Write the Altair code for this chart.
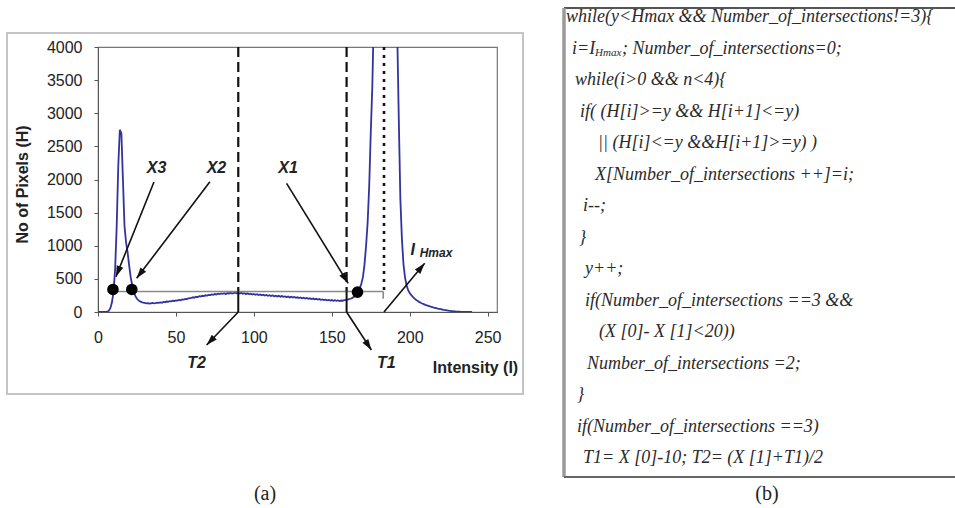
import math
import altair as alt
import pandas as pd

# ---------------- values ----------------
# histogram: number of pixels (H) for each grey level (I)
pixel_counts = [
    0, 0, 0, 0, 0, 0, 5, 20, 60, 150,
    320, 650, 1300, 2200, 2750, 2700, 2000, 1300, 1050, 900,
    700, 520, 400, 300, 240, 200, 175, 160, 150, 142,
    136, 130, 134, 128, 132, 138, 130, 135, 141, 137,
    145, 140, 152, 148, 158, 155, 163, 160, 170, 166,
    175, 172, 183, 178, 190, 186, 198, 194, 205, 210,
    214, 222, 218, 230, 226, 238, 234, 245, 241, 252,
    248, 258, 254, 266, 260, 271, 265, 276, 270, 280,
    274, 283, 270, 286, 277, 290, 279, 284, 293, 281,
    288, 279, 291, 276, 284, 270, 282, 268, 277, 264,
    272, 260, 268, 255, 265, 252, 262, 248, 257, 245,
    254, 242, 250, 238, 247, 235, 244, 231, 240, 228,
    236, 225, 233, 220, 230, 217, 226, 214, 222, 210,
    219, 206, 215, 203, 211, 199, 207, 195, 203, 191,
    199, 187, 195, 183, 190, 180, 186, 176, 183, 173,
    180, 170, 177, 168, 175, 166, 173, 170, 178, 182,
    188, 194, 200, 210, 225, 245, 275, 310, 360, 430,
    530, 720, 1000, 1350, 1900, 2700, 3400, 4500, 6000, 8000,
    9500, 10500, 11000, 11200, 11000, 10500, 9500, 8500, 7500, 6500,
    5500, 4800, 4200, 2900, 1700, 1100, 720, 520, 400, 330,
    285, 255, 228, 205, 185, 168, 153, 140, 128, 118,
    108, 100, 92, 84, 77, 70, 64, 58, 52, 47,
    42, 37, 32, 28, 24, 20, 17, 14, 11, 9,
    7, 5, 4, 3, 2, 1, 1, 0, 0, 0, 0,
]
intensity = list(range(len(pixel_counts)))

x_ticks = [0, 50, 100, 150, 200, 250]
y_ticks = [0, 500, 1000, 1500, 2000, 2500, 3000, 3500, 4000]

# threshold search line and intersections
search_level = 310
search_from, search_to = 10, 183
dot_names = ["X3", "X2", "X1"]
dot_I = [9.6, 21.7, 166.5]
dot_H = [340, 340, 300]

# vertical markers
T2_I, T1_I, IHmax_I = 90, 159.5, 183.5

# arrows: start (I, H) -> tip (I, H)
arrow_names = ["X3", "X2", "X1", "T2", "T1", "IHmax"]
arrow_I0 = [35.9, 71.8, 121.0, 90.0, 159.5, 183.5]
arrow_H0 = [1962, 1967, 1942, 0, 0, 0]
arrow_I1 = [11.5, 24.8, 160.5, 69.7, 175.4, 209.6]
arrow_H1 = [533, 508, 433, -498, -574, 735]

# annotation labels
label_text = ["X3", "X2", "X1", "T2", "T1", "I"]
label_I = [37.6, 76.0, 122.0, 63.3, 185.0, 202.0]
label_H = [2168, 2168, 2168, -775, -775, 936]

# code listing of panel (b): page x, page y, text
code_x = [566, 572, 622, 575, 580, 598, 595, 583, 579, 585, 585, 599, 587, 577, 577, 583]
code_y = [17, 48.5, 48.5, 80, 111.5, 143, 174.5, 206, 237.5, 269, 300.5, 332, 363.5, 395, 426.5, 458]
code_text = [
    "while(y<Hmax && Number_of_intersections!=3){",
    "i=I",
    "; Number_of_intersections=0;",
    "while(i>0 && n<4){",
    "if( (H[i]>=y && H[i+1]<=y)",
    "|| (H[i]<=y &&H[i+1]>=y) )",
    "X[Number_of_intersections ++]=i;",
    "i--;",
    "}",
    "y++;",
    "if(Number_of_intersections ==3 &&",
    "(X [0]- X [1]<20))",
    "Number_of_intersections =2;",
    "}",
    "if(Number_of_intersections ==3)",
    "T1= X [0]-10; T2= (X [1]+T1)/2",
]

# ---------------- layout ----------------
W, H = 399, 265
LEFT, TOP = 98, 47
X_MAX, Y_MAX = 256, 4000
KX, KY = W / X_MAX, H / Y_MAX
BOTTOM = TOP + H


def to_I(px):
    return (px - LEFT) / KX


def to_H(py):
    return (BOTTOM - py) / KY


xs = alt.Scale(domain=[0, X_MAX], nice=False, zero=False)
ys = alt.Scale(domain=[0, Y_MAX], nice=False, zero=False)

x_axis = alt.Axis(
    values=x_ticks, grid=False, title="Intensity (I)", format="d", labelFlush=False,
    labelFontSize=16, labelFont="Liberation Sans", labelColor="#222",
    tickSize=4, tickColor="#555", domainColor="#555", labelPadding=21,
    labelBaseline="middle",
    titleFont="Liberation Sans", titleFontSize=16, titleFontWeight="bold",
    titleColor="#222", titleX=377, titleY=55, titleAlign="center",
    titleBaseline="middle",
)
y_axis = alt.Axis(
    values=y_ticks, grid=False, title="No of Pixels (H)", format="d", labelFlush=False,
    labelFontSize=16, labelFont="Liberation Sans", labelColor="#222",
    tickSize=4, tickColor="#555", domainColor="#555", labelPadding=12,
    titleFont="Liberation Sans", titleFontSize=16, titleFontWeight="bold",
    titleColor="#222", titleX=-76, titleY=137, titleAngle=270,
    titleAlign="center", titleBaseline="middle",
)


def X(field):
    return alt.X(field, scale=xs, axis=x_axis)


def Y(field):
    return alt.Y(field, scale=ys, axis=y_axis)


curve_df = pd.DataFrame({"I": intensity, "H": pixel_counts})
curve = alt.Chart(curve_df).mark_line(clip=True, color="#3333a0", strokeWidth=1.8).encode(
    x=X("I:Q"), y=Y("H:Q"),
)

search_df = pd.DataFrame({"I": [search_from], "I2": [search_to], "H": [search_level], "Hlow": [200]})
search_line = alt.Chart(search_df).mark_rule(color="#8a8a8a", strokeWidth=1.6).encode(
    x=X("I:Q"), x2="I2:Q", y=Y("H:Q"),
)
search_end = alt.Chart(search_df).mark_rule(color="#8a8a8a", strokeWidth=1.6).encode(
    x=X("I2:Q"), y=Y("H:Q"), y2="Hlow:Q",
)

dash_df = pd.DataFrame({"I": [T2_I, T1_I], "top": [Y_MAX, Y_MAX], "low": [search_level, search_level]})
dashed = alt.Chart(dash_df).mark_rule(color="#111", strokeWidth=2.2, strokeDash=[10, 5]).encode(
    x=X("I:Q"), y=Y("top:Q"), y2="low:Q",
)
solid_df = pd.DataFrame({"I": [T2_I, T1_I], "top": [search_level, search_level], "low": [0, 0]})
solid = alt.Chart(solid_df).mark_rule(color="#111", strokeWidth=2).encode(
    x=X("I:Q"), y=Y("top:Q"), y2="low:Q",
)
dot_df = pd.DataFrame({"I": [IHmax_I], "top": [Y_MAX], "low": [search_level]})
dotted = alt.Chart(dot_df).mark_rule(color="#111", strokeWidth=2.6, strokeDash=[3, 5]).encode(
    x=X("I:Q"), y=Y("top:Q"), y2="low:Q",
)

points_df = pd.DataFrame({"name": dot_names, "I": dot_I, "H": dot_H})
points = alt.Chart(points_df).mark_circle(color="black", opacity=1, size=135).encode(
    x=X("I:Q"), y=Y("H:Q"),
)

angles = []
for a0, b0, a1, b1 in zip(arrow_I0, arrow_H0, arrow_I1, arrow_H1):
    dx = (a1 - a0) * KX
    dy = -(b1 - b0) * KY
    angles.append(math.degrees(math.atan2(dx, -dy)) % 360)
arrow_df = pd.DataFrame({
    "name": arrow_names, "I0": arrow_I0, "H0": arrow_H0,
    "I1": arrow_I1, "H1": arrow_H1, "ang": angles,
})
arrow_lines = alt.Chart(arrow_df).mark_rule(color="#111", strokeWidth=1.6).encode(
    x=X("I0:Q"), x2="I1:Q", y=Y("H0:Q"), y2="H1:Q",
)
arrow_heads = alt.Chart(arrow_df).mark_point(
    shape="M0,0L0.7,2.2L-0.7,2.2Z", filled=True, color="#111", opacity=1, size=100,
).encode(
    x=X("I1:Q"), y=Y("H1:Q"),
    angle=alt.Angle("ang:Q", scale=None),
)

lab_df = pd.DataFrame({"t": label_text, "I": label_I, "H": label_H})
labels = alt.Chart(lab_df).mark_text(
    font="Liberation Sans", fontSize=16, fontWeight="bold", fontStyle="italic",
    color="#222", align="center", baseline="middle",
).encode(x=X("I:Q"), y=Y("H:Q"), text="t:N")

sub_df = pd.DataFrame({"t": ["Hmax"], "I": [206.4], "H": [895]})
sub_label = alt.Chart(sub_df).mark_text(
    font="Liberation Sans", fontSize=12, fontWeight="bold", fontStyle="italic",
    color="#222", align="left", baseline="middle",
).encode(x=X("I:Q"), y=Y("H:Q"), text="t:N")

# ---------- page furniture (page pixels converted into the chart's units) ----------
frame_df = pd.DataFrame({"x": [to_I(7)], "x2": [to_I(523)], "y": [to_H(33)], "y2": [to_H(394)]})
frame = alt.Chart(frame_df).mark_rect(fill=None, stroke="#c4c4c4", strokeWidth=2).encode(
    x=X("x:Q"), x2="x2:Q", y=Y("y:Q"), y2="y2:Q",
)

box_df = pd.DataFrame({
    "x": [to_I(564), to_I(564), to_I(564)],
    "x2": [to_I(960), to_I(564), to_I(960)],
    "y": [to_H(8), to_H(8), to_H(477)],
    "y2": [to_H(8), to_H(477), to_H(477)],
    "c": ["#555555", "#9a9a9a", "#666666"],
    "w": [2.0, 3.5, 2.2],
})
box = alt.Chart(box_df).mark_rule().encode(
    x=X("x:Q"), x2="x2:Q", y=Y("y:Q"), y2="y2:Q",
    color=alt.Color("c:N", scale=None, legend=None),
    strokeWidth=alt.StrokeWidth("w:Q", scale=None, legend=None),
)

code_df = pd.DataFrame({
    "x": [to_I(v) for v in code_x],
    "y": [to_H(v) for v in code_y],
    "t": code_text,
})
code = alt.Chart(code_df).mark_text(
    font="Liberation Serif", fontSize=18, fontStyle="italic", color="#2a2a2a",
    align="left", baseline="middle",
).encode(x=X("x:Q"), y=Y("y:Q"), text="t:N")

code_sub_df = pd.DataFrame({"x": [to_I(595)], "y": [to_H(53)], "t": ["Hmax"]})
code_sub = alt.Chart(code_sub_df).mark_text(
    font="Liberation Serif", fontSize=11, fontStyle="italic", color="#2a2a2a",
    align="left", baseline="middle",
).encode(x=X("x:Q"), y=Y("y:Q"), text="t:N")

cap_df = pd.DataFrame({"x": [to_I(265), to_I(767)], "y": [to_H(494), to_H(494)], "t": ["(a)", "(b)"]})
captions = alt.Chart(cap_df).mark_text(
    font="Liberation Serif", fontSize=20, color="#222", align="center", baseline="middle",
).encode(x=X("x:Q"), y=Y("y:Q"), text="t:N")

chart = alt.layer(
    curve, frame, box, search_line, search_end, dashed, solid, dotted,
    arrow_lines, arrow_heads, points, labels, sub_label, code, code_sub, captions,
).properties(
    width=W, height=H,
    autosize=alt.AutoSizeParams(type="none"),
    padding={"left": LEFT, "top": TOP, "right": 955 - LEFT - W, "bottom": 508 - TOP - H},
    background="white",
).configure_view(stroke="#777", strokeWidth=1.2)

chart.save("out.html", embed_options={"renderer": "svg", "actions": False})
